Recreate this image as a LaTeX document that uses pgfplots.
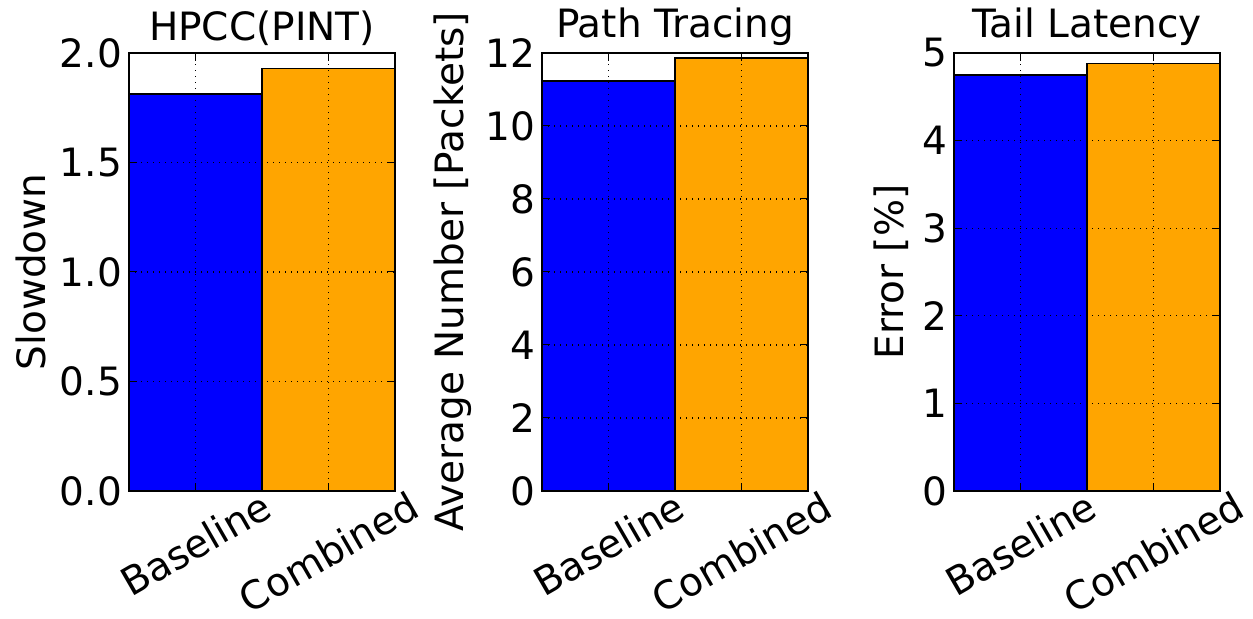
\documentclass[border=0pt]{standalone}
\usepackage{fontspec}
\setmainfont{DejaVu Sans}
\usepackage{graphicx}
\usepackage{pgfplots}
\pgfplotsset{compat=1.18}
\definecolor{mblue}{RGB}{0,0,255}
\definecolor{morange}{RGB}{255,165,0}
\pgfplotsset{
 panel/.style={
  scale only axis, width=133pt, height=219pt,
  xmin=-0.5, xmax=1.5, ymin=0,
  ybar, bar width=1,
  xtick={0,1}, xticklabels={\rotatebox{30}{Baseline},\rotatebox{30}{Combined}},
  grid=major, major grid style={black, dash pattern=on 0.6pt off 2.4pt, line width=0.6pt},
  axis line style={line width=0.75pt},
  tick style={black, line width=0.5pt}, major tick length=4pt,
  tick align=inside,
  axis on top=true,
  every tick label/.append style={font=\fontsize{19.5}{23}\selectfont},
  xticklabel style={inner sep=0pt, yshift=1pt},
  label style={font=\fontsize{19.5}{23}\selectfont},
  title style={font=\fontsize{19.5}{23}\selectfont, yshift=-6pt},
  /pgf/number format/assume math mode=true,
  every axis plot/.append style={draw=black, line width=0.75pt, bar shift=0pt},
 }
}
\begin{document}
\begin{tikzpicture}
\useasboundingbox (0,0) rectangle (626.5pt,309.5pt);
\begin{axis}[panel, at={(64.5pt,64pt)}, anchor=south west,
  ymax=2, ytick={0,0.5,1,1.5,2},
  yticklabel style={/pgf/number format/.cd, fixed, fixed zerofill, precision=1},
  ylabel={Slowdown}, title={HPCC(PINT)}]
\addplot[fill=mblue] coordinates {(0,1.813)};
\addplot[fill=morange] coordinates {(1,1.93)};
\end{axis}
\begin{axis}[panel, at={(271pt,64pt)}, anchor=south west,
  ymax=12, ytick={0,2,4,6,8,10,12},
  ylabel={Average Number [Packets]}, title={Path Tracing}]
\addplot[fill=mblue] coordinates {(0,11.23)};
\addplot[fill=morange] coordinates {(1,11.86)};
\end{axis}
\begin{axis}[panel, at={(477pt,64pt)}, anchor=south west,
  ymax=5, ytick={0,1,2,3,4,5},
  ylabel={Error [\%]}, title={Tail Latency}]
\addplot[fill=mblue] coordinates {(0,4.75)};
\addplot[fill=morange] coordinates {(1,4.88)};
\end{axis}
\end{tikzpicture}
\end{document}
